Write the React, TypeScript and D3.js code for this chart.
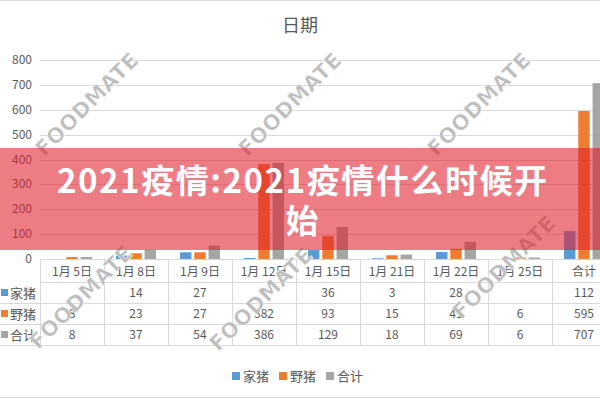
import React from 'react';
import * as d3 from 'd3';

const categories = ['1月 5日', '1月 8日', '1月 9日', '1月 12日', '1月 15日', '1月 21日', '1月 22日', '1月 25日', '合计'];
const seriesNames = ['家猪', '野猪', '合计'];
const domesticPig = [null, 14, 27, 4, 36, 3, 28, null, 112];
const wildBoar = [8, 23, 27, 382, 93, 15, 41, 6, 595];
const totals = [8, 37, 54, 386, 129, 18, 69, 6, 707];
const yTicks = [0, 100, 200, 300, 400, 500, 600, 700, 800];
const colors = ['#5B9BD5', '#ED7D31', '#A5A5A5'];
const chartTitle = '日期';
const bannerLines = ['2021疫情:2021疫情什么时候开', '始'];
const watermarks = [
    [88, 105], [291, 105], [480, 105],
    [82, 298], [262, 300], [505, 268],
];

const font = '"Noto Sans CJK SC", "Noto Sans", sans-serif';
const textColor = '#595959';

const App: React.FC = () => {
    const width = 600;
    const height = 400;
    const left = 40;
    const right = 616;
    const zeroY = 259;
    const topY = 60;

    const seriesData = [domesticPig, wildBoar, totals];

    const x0 = d3.scaleBand<string>().domain(categories).range([left, right]).padding(0);
    const x1 = d3.scaleBand<string>().domain(seriesNames).range([12, 52]).paddingInner(0.2);
    const y = d3.scaleLinear().domain([0, 800]).range([zeroY, topY]);

    const headerBottom = 282;
    const rowH = 21;
    const rowY = (i: number) => headerBottom + i * rowH;

    return (
        <svg width={width} height={height} style={{ position: 'fixed', left: 0, top: 0, background: '#fff' }}
            fontFamily={font}>
            <rect width={width} height={height} fill="#fff" />
            <line x1={0} x2={width} y1={0.5} y2={0.5} stroke="#d9d9d9" />
            <line x1={0} x2={width} y1={397.5} y2={397.5} stroke="#d9d9d9" />

            {/* title */}
            <text x={300} y={32} textAnchor="middle" fontSize={18} fill={textColor}>{chartTitle}</text>

            {/* gridlines + y labels */}
            {yTicks.map(t => (
                <g key={t}>
                    <line x1={left} x2={right} y1={Math.round(y(t)) + 0.5} y2={Math.round(y(t)) + 0.5}
                        stroke="#d9d9d9" />
                    <text x={32} y={y(t) + 4} textAnchor="end" fontSize={12} fill={textColor}>{t}</text>
                </g>
            ))}

            {/* bars */}
            {seriesData.map((vals, si) => (
                <g key={si} fill={colors[si]}>
                    {vals.map((v, ci) => v == null ? null : (
                        <rect key={ci}
                            x={(x0(categories[ci]) ?? 0) + (x1(seriesNames[si]) ?? 0)}
                            y={y(v)}
                            width={x1.bandwidth()}
                            height={zeroY - y(v)} />
                    ))}
                </g>
            ))}

            {/* data table */}
            <g stroke="#d9d9d9" strokeWidth={1}>
                {categories.map(c => (
                    <line key={c} x1={(x0(c) ?? 0) + 0.5} x2={(x0(c) ?? 0) + 0.5} y1={zeroY} y2={rowY(3)} />
                ))}
                <line x1={right - 0.5} x2={right - 0.5} y1={zeroY} y2={rowY(3)} />
                {[0, 1, 2, 3].map(i => (
                    <line key={i} x1={i === 0 ? left : 0} x2={right} y1={rowY(i) + 0.5} y2={rowY(i) + 0.5} />
                ))}
                <line x1={left} x2={right} y1={zeroY + 0.5} y2={zeroY + 0.5} />
            </g>
            {categories.map(c => (
                <text key={c} x={(x0(c) ?? 0) + x0.bandwidth() / 2} y={276} textAnchor="middle"
                    fontSize={12} fill={textColor}>{c}</text>
            ))}
            {seriesData.map((vals, si) => (
                <g key={si}>
                    <rect x={1} y={rowY(si) + 7} width={7} height={7} fill={colors[si]} />
                    <text x={10} y={rowY(si) + 16} fontSize={13} fill={textColor}>{seriesNames[si]}</text>
                    {vals.map((v, ci) => v == null ? null : (
                        <text key={ci} x={(x0(categories[ci]) ?? 0) + x0.bandwidth() / 2} y={rowY(si) + 15}
                            textAnchor="middle" fontSize={12} fill={textColor}>{v}</text>
                    ))}
                </g>
            ))}

            {/* legend */}
            {seriesNames.map((s, i) => (
                <g key={s} transform={`translate(${232 + i * 47},0)`}>
                    <rect x={0} y={372} width={8} height={8} fill={colors[i]} />
                    <text x={11} y={381} fontSize={13} fill={textColor}>{s}</text>
                </g>
            ))}

            {/* watermarks */}
            {watermarks.map(([cx, cy], i) => (
                <text key={i} transform={`translate(${cx},${cy}) rotate(-45)`} textAnchor="middle"
                    dominantBaseline="middle" fontSize={21} fontWeight="bold" letterSpacing={0.5}
                    fill="#bdbdbd" stroke="#fff" strokeWidth={0.5} fontFamily="'DejaVu Sans', sans-serif">
                    FOODMATE
                </text>
            ))}

            {/* banner */}
            <rect x={0} y={148} width={width} height={102} fill="rgb(225,30,45)" fillOpacity={0.58} />
            <text x={302} y={193} textAnchor="middle" fontSize={33} fontWeight="bold" fill="#fff"
                textLength={490} lengthAdjust="spacing">{bannerLines[0]}</text>
            <text x={302} y={233} textAnchor="middle" fontSize={33} fontWeight="bold" fill="#fff">
                {bannerLines[1]}
            </text>
        </svg>
    );
};

export default App;
